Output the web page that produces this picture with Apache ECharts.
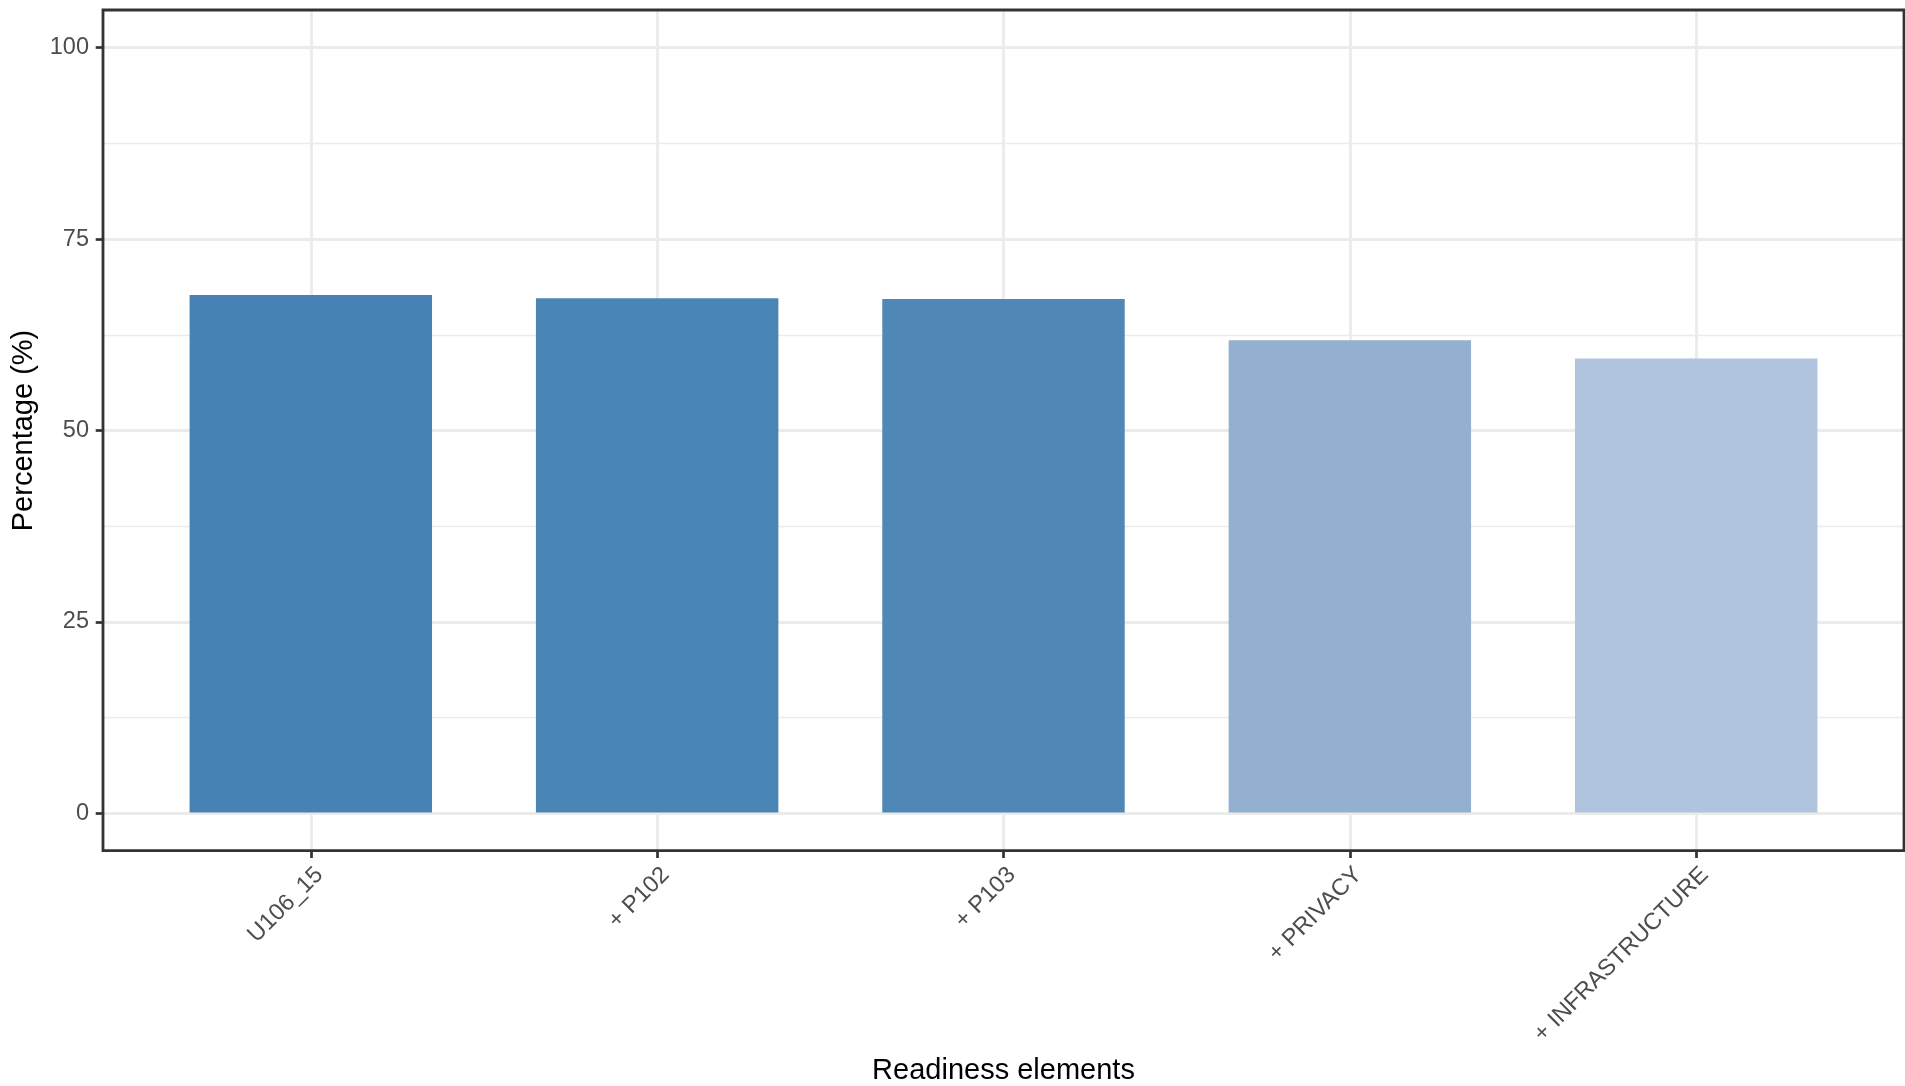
<!DOCTYPE html>
<html>
<head>
<meta charset="utf-8">
<script src="https://cdn.jsdelivr.net/npm/echarts@6/dist/echarts.min.js"></script>
<style>
html,body{margin:0;padding:0;background:#fff;}
#chart{width:1905px;height:1086px;}
</style>
</head>
<body>
<div id="chart"></div>
<script>
// ---- data ----
const categories = ['U106_15', '+ P102', '+ P103', '+ PRIVACY', '+ INFRASTRUCTURE'];
const percentages = [67.7, 67.3, 67.2, 61.8, 59.4];
const yTicks = [0, 25, 50, 75, 100];
const barColors = ['#4682B4', '#4A86B5', '#4F87B6', '#94B0D0', '#B0C4DE'];

// ---- layout (ggplot-like panel) ----
const panel = {left: 103, top: 10, right: 1904, bottom: 850.7};
const panelW = panel.right - panel.left;
const unit = panelW / (categories.length - 1 + 1.2); // 0.6 expand each side
const y0 = 813.3, y100 = 47.7;
const FONT = "'Liberation Sans', Arial, Helvetica, sans-serif";

const chart = echarts.init(document.getElementById('chart'), null, {renderer: 'canvas'});
chart.setOption({
  backgroundColor: '#ffffff',
  animation: false,
  grid: [
    { // grid 0: y axis / horizontal grid lines across full panel
      left: panel.left, top: y100, width: panelW, height: y0 - y100,
      containLabel: false, outerBoundsMode: 'none'
    },
    { // grid 1: bars, category points at centres
      left: panel.left + 0.6 * unit, top: panel.top,
      width: (categories.length - 1) * unit, height: panel.bottom - panel.top,
      containLabel: false, outerBoundsMode: 'none'
    }
  ],
  xAxis: [
    {gridIndex: 0, type: 'value', show: false, min: 0, max: 1},
    {
      gridIndex: 1, type: 'category', data: categories, boundaryGap: false,
      position: 'bottom',
      axisLine: {show: false, onZero: false},
      axisTick: {show: true, length: 7.3, lineStyle: {color: '#333333', width: 2.7}},
      axisLabel: {
        rotate: 45, fontSize: 23.5, color: '#4D4D4D', fontFamily: FONT, margin: 12,
        interval: 0, align: 'right', verticalAlign: 'top'
      },
      splitLine: {show: true, lineStyle: {color: '#EBEBEB', width: 2.8}},
      name: 'Readiness elements', nameLocation: 'middle', nameGap: 206,
      nameTextStyle: {fontSize: 29, color: '#000000', fontFamily: FONT}
    }
  ],
  yAxis: [
    {
      gridIndex: 0, type: 'value', min: 0, max: 100, interval: 25,
      axisLine: {show: false, onZero: false},
      axisTick: {show: true, length: 7.3, lineStyle: {color: '#333333', width: 2.7}},
      axisLabel: {fontSize: 23.5, color: '#4D4D4D', fontFamily: FONT, margin: 14,
        formatter: v => (yTicks.indexOf(v) >= 0 ? String(v) : '')},
      splitLine: {show: true, lineStyle: {color: '#EBEBEB', width: 2.8}},
      minorTick: {show: false, splitNumber: 2},
      minorSplitLine: {show: true, lineStyle: {color: '#EBEBEB', width: 1.4}},
      name: 'Percentage (%)', nameLocation: 'middle', nameGap: 56, nameRotate: 90,
      nameTextStyle: {fontSize: 29, color: '#000000', fontFamily: FONT}
    },
    {gridIndex: 1, type: 'value', min: -5, max: 105, show: false}
  ],
  graphic: [{
    type: 'rect', z: 100, silent: true,
    shape: {x: panel.left, y: panel.top, width: panelW, height: panel.bottom - panel.top},
    style: {fill: 'none', stroke: '#333333', lineWidth: 2.8}
  }],
  series: [{
    type: 'bar', xAxisIndex: 1, yAxisIndex: 1, clip: false,
    barWidth: 0.7 * unit,
    data: percentages.map((v, i) => ({value: v, itemStyle: {color: barColors[i]}})),
    z: 5
  }]
});
</script>
</body>
</html>
